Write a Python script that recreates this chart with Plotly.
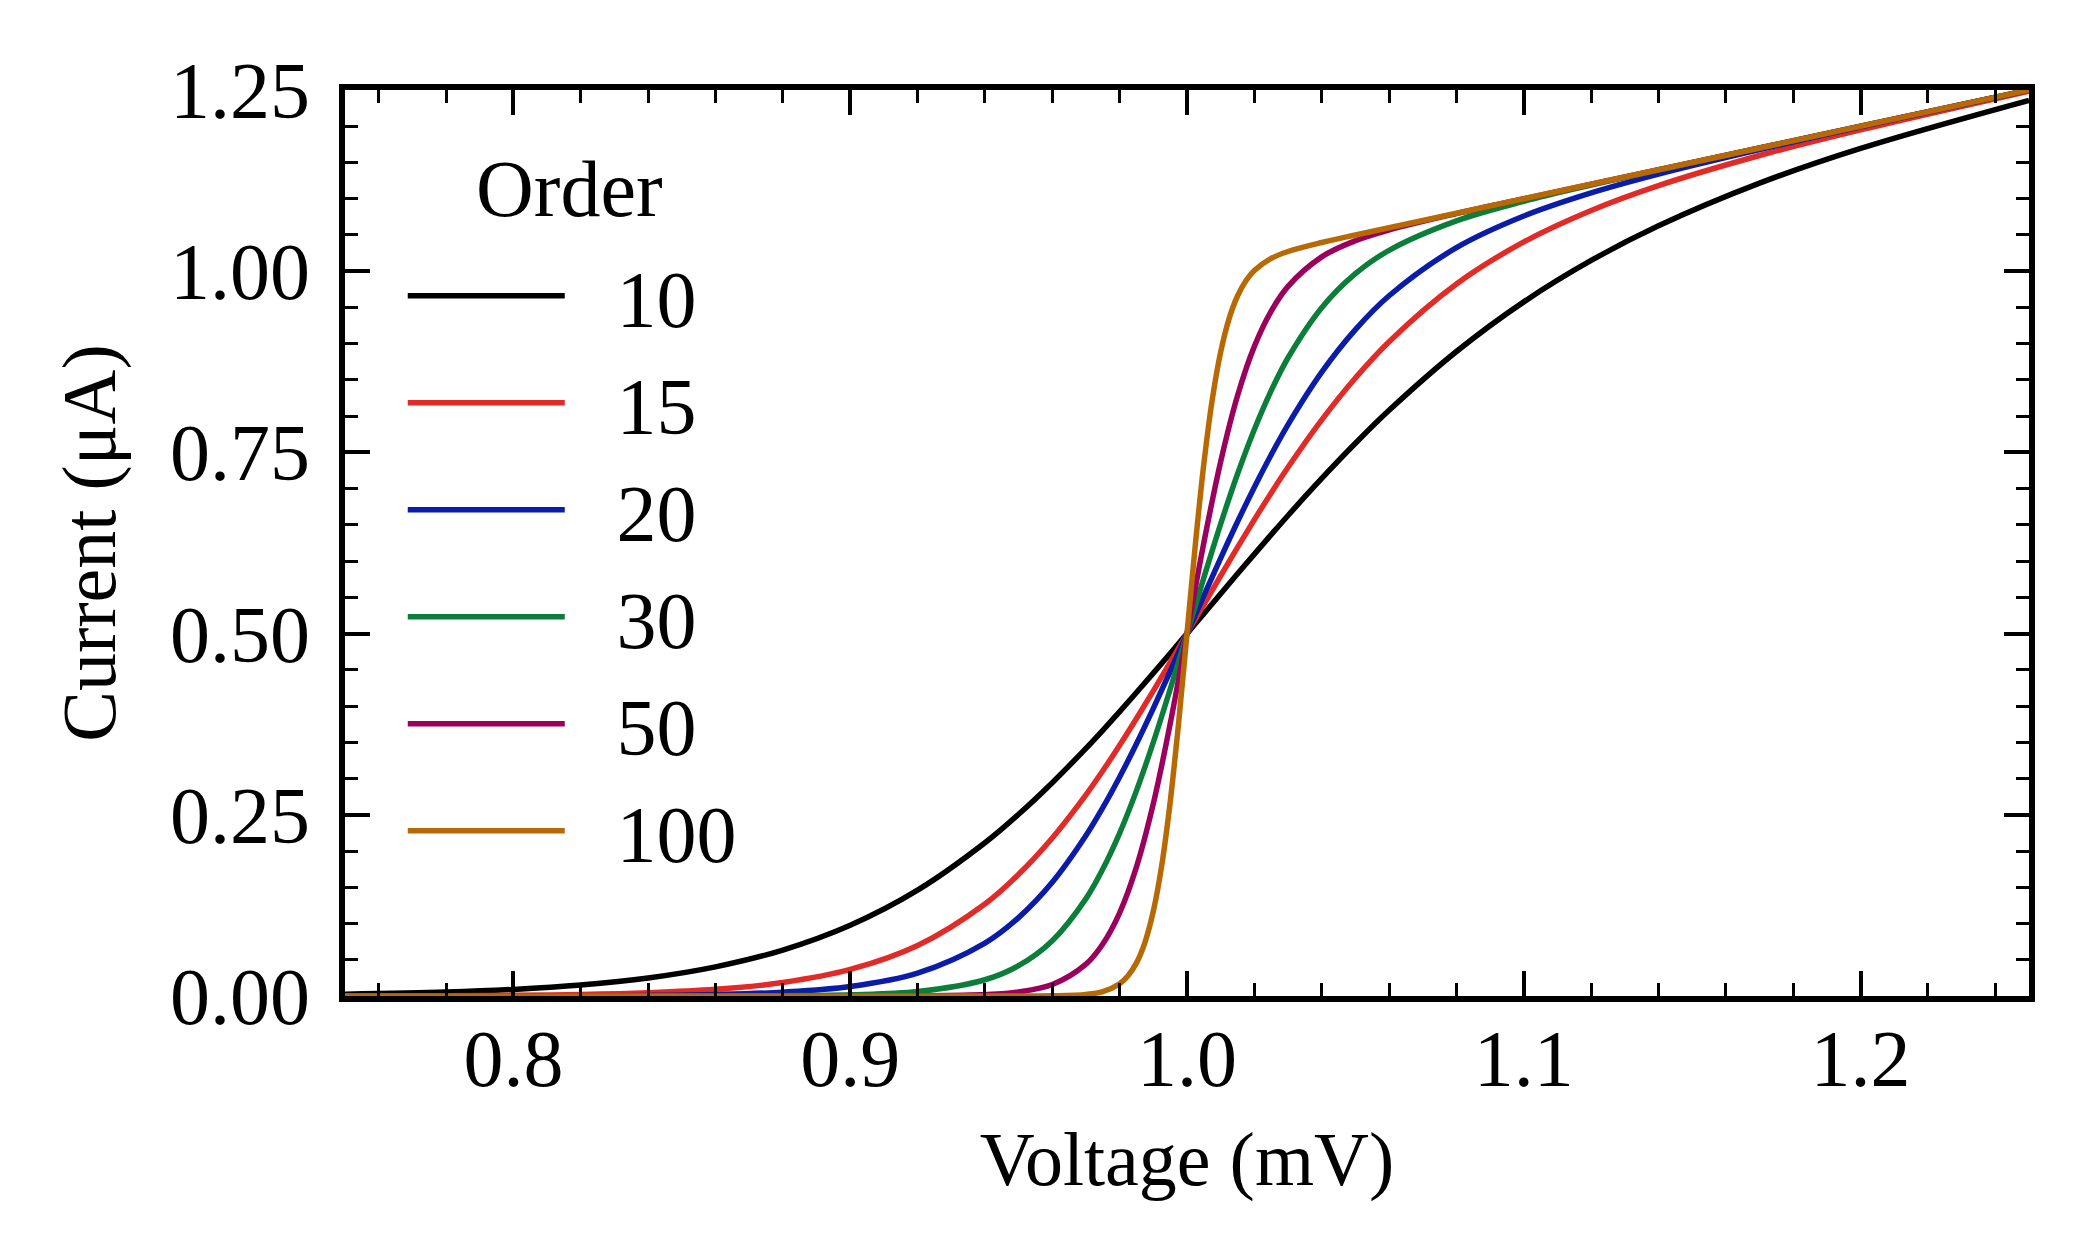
import plotly.graph_objects as go

# Voltage samples (mV)
x_common = [0.75, 0.78, 0.80, 0.82, 0.84, 0.86, 0.88, 0.90, 0.92, 0.94, 0.95, 0.96, 0.97, 0.975,
            0.98, 0.985, 0.99, 0.995, 1.0, 1.005, 1.01, 1.015, 1.02, 1.025, 1.03, 1.04, 1.05,
            1.06, 1.08, 1.10, 1.12, 1.14, 1.17, 1.20, 1.25]

# Current (uA) for each order
y_order10 = [0.0024, 0.0054, 0.0091, 0.0152, 0.0249, 0.0402, 0.0634, 0.0976, 0.1460, 0.2114, 0.2507,
             0.2943, 0.3417, 0.3666, 0.3923, 0.4187, 0.4454, 0.4726, 0.5, 0.5275, 0.5551, 0.5825,
             0.6097, 0.6365, 0.6630, 0.7141, 0.7626, 0.8081, 0.8892, 0.9577, 1.0148, 1.0627,
             1.1215, 1.1695, 1.2358]
y_order15 = [0.0001, 0.0005, 0.0010, 0.0021, 0.0045, 0.0092, 0.0186, 0.0366, 0.0697, 0.1270, 0.1679,
             0.2181, 0.2776, 0.3108, 0.3459, 0.3828, 0.4210, 0.4602, 0.5, 0.5400, 0.5798, 0.6190,
             0.6572, 0.6941, 0.7295, 0.7949, 0.8527, 0.9028, 0.9824, 1.0404, 1.0838, 1.1181,
             1.1596, 1.1950, 1.2485]
y_order20 = [0.0000, 0.0000, 0.0001, 0.0003, 0.0008, 0.0021, 0.0053, 0.0131, 0.0316, 0.0730, 0.1082,
             0.1569, 0.2214, 0.2598, 0.3022, 0.3480, 0.3968, 0.4477, 0.5, 0.5525, 0.6042, 0.6543,
             0.7020, 0.7468, 0.7884, 0.8607, 0.9194, 0.9661, 1.0325, 1.0762, 1.1081, 1.1340,
             1.1678, 1.1992, 1.2498]
y_order30 = [0.0, 0.0, 0.0, 0.0, 0.0, 0.0001, 0.0004, 0.0016, 0.0061, 0.0224, 0.0418, 0.0763, 0.1344,
             0.1751, 0.2248, 0.2834, 0.3501, 0.4233, 0.5, 0.5771, 0.6514, 0.7202, 0.7817, 0.8352,
             0.8806, 0.9497, 0.9966, 1.0288, 1.0694, 1.0964, 1.1188, 1.1396, 1.1699, 1.2000, 1.2500]
y_order50 = [0.0, 0.0, 0.0, 0.0, 0.0, 0.0, 0.0, 0.0, 0.0002, 0.0019, 0.0056, 0.0159, 0.0440, 0.0718,
             0.1148, 0.1781, 0.2653, 0.3754, 0.5, 0.6253, 0.7374, 0.8282, 0.8963, 0.9450, 0.9791,
             1.0198, 1.0421, 1.0569, 1.0795, 1.0999, 1.1200, 1.1400, 1.1700, 1.2000, 1.2500]

x_order100 = [0.75, 0.90, 0.94, 0.96, 0.97, 0.975, 0.98, 0.9825, 0.985, 0.9875, 0.99, 0.9925, 0.995,
              0.9975, 1.0, 1.0025, 1.005, 1.0075, 1.01, 1.0125, 1.015, 1.0175, 1.02, 1.025, 1.03,
              1.04, 1.05, 1.06, 1.10, 1.25]
y_order100 = [0.0, 0.0, 0.0, 0.0003, 0.0022, 0.0061, 0.0170, 0.0280, 0.0457, 0.0738, 0.1170, 0.1802,
              0.2672, 0.3765, 0.5, 0.6239, 0.7342, 0.8229, 0.8885, 0.9346, 0.9658, 0.9868, 1.0009,
              1.0177, 1.0272, 1.0396, 1.0500, 1.0600, 1.1000, 1.2500]

orders = ["10", "15", "20", "30", "50", "100"]
series_x = [x_common, x_common, x_common, x_common, x_common, x_order100]
series_y = [y_order10, y_order15, y_order20, y_order30, y_order50, y_order100]
colors = ["#000000", "#e22a26", "#0a1ca8", "#0b7e3a", "#9b005c", "#b76a04"]

FONT = "Liberation Serif, Times New Roman, serif"
FS = 80
FS_TITLE = 76

fig = go.Figure()
for name, xs, ys, c in zip(orders, series_x, series_y, colors):
    fig.add_trace(go.Scatter(
        x=xs, y=ys, mode="lines", name="\u00a0\u00a0\u200a" + name,
        line=dict(color=c, width=5.5, shape="spline", smoothing=1.0),
    ))

axis_common = dict(
    showline=True, linecolor="black", linewidth=6, mirror="allticks",
    ticks="inside", ticklen=25, tickwidth=4, tickcolor="black",
    showgrid=False, zeroline=False,
    tickfont=dict(family=FONT, size=FS, color="black"),
)

fig.update_xaxes(
    range=[0.75, 1.25], dtick=0.1, tick0=0.8, tickformat=".1f",
    minor=dict(ticks="inside", dtick=0.02, ticklen=13, tickwidth=3, tickcolor="black", showgrid=False),
    title=dict(text="Voltage (mV)", font=dict(family=FONT, size=FS_TITLE, color="black"), standoff=32),
    ticklabelstandoff=-12,
    **axis_common,
)
fig.update_yaxes(
    range=[0, 1.25], dtick=0.25, tick0=0, tickformat=".2f",
    minor=dict(ticks="inside", dtick=0.05, ticklen=13, tickwidth=3, tickcolor="black", showgrid=False),
    title=dict(text="Current (μA)", font=dict(family=FONT, size=FS_TITLE, color="black"), standoff=31),
    ticklabelstandoff=13,
    **axis_common,
)

fig.add_annotation(
    text="Order", xref="paper", yref="paper", x=0.1336, y=0.891,
    xanchor="center", yanchor="middle", showarrow=False,
    font=dict(family=FONT, size=FS, color="black"),
)

fig.update_layout(
    width=2075, height=1243, autosize=False,
    margin=dict(l=337, r=54, t=82, b=255),
    paper_bgcolor="white", plot_bgcolor="white",
    font=dict(family=FONT, size=FS, color="black"),
    showlegend=True,
    legend=dict(
        x=0.0343, y=0.8375, xanchor="left", yanchor="top",
        bgcolor="rgba(0,0,0,0)", borderwidth=0,
        itemwidth=157,
        font=dict(family=FONT, size=FS, color="black"),
        tracegroupgap=0,
    ),
)

fig.write_html("out.html")
